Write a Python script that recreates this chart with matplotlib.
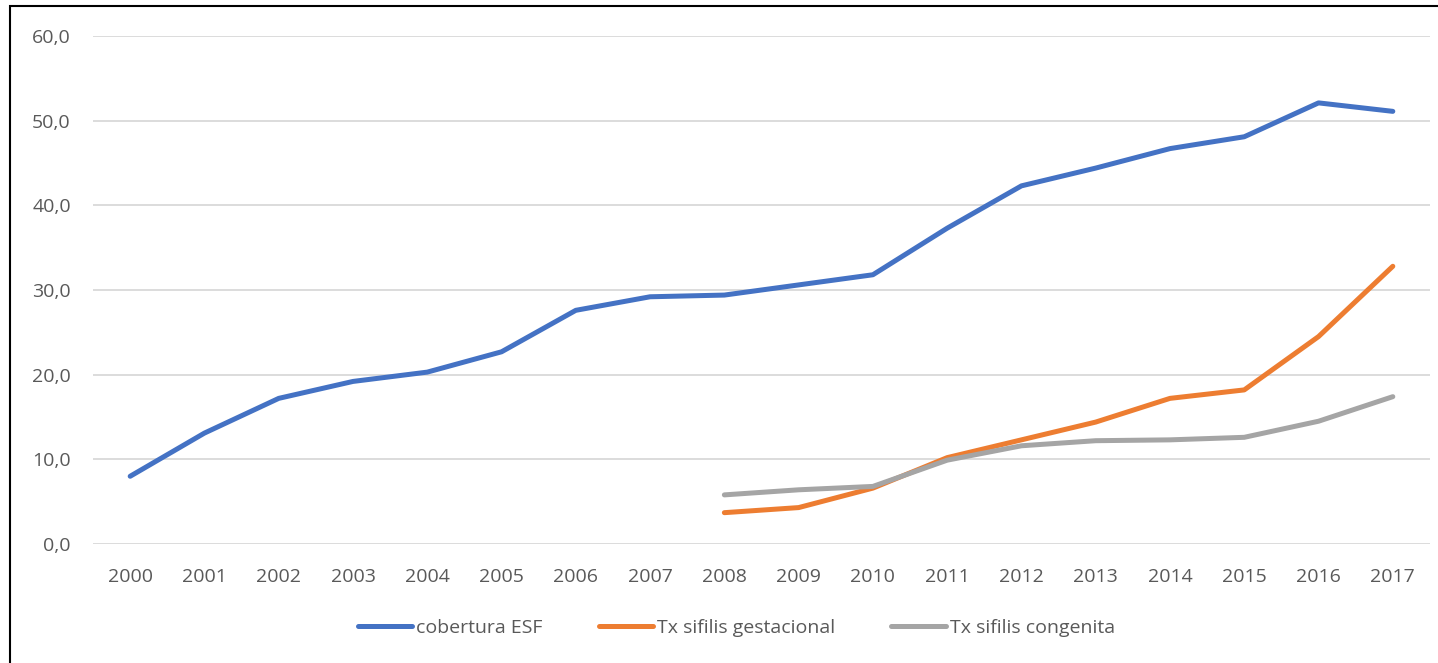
import matplotlib
matplotlib.use('Agg')
import matplotlib.pyplot as plt
from matplotlib.patches import Rectangle

plt.rcParams['font.family'] = ['Open Sans', 'DejaVu Sans']

# data
anos = ['2000', '2001', '2002', '2003', '2004', '2005', '2006', '2007', '2008',
        '2009', '2010', '2011', '2012', '2013', '2014', '2015', '2016', '2017']
cobertura_esf = [8.0, 13.1, 17.2, 19.2, 20.3, 22.7, 27.6, 29.2, 29.4,
                 30.6, 31.8, 37.3, 42.3, 44.4, 46.7, 48.1, 52.1, 51.1]
anos_sifilis = anos[8:]
tx_gestacional = [3.7, 4.3, 6.6, 10.2, 12.3, 14.4, 17.2, 18.2, 24.5, 32.8]
tx_congenita = [5.8, 6.4, 6.8, 9.9, 11.6, 12.2, 12.3, 12.6, 14.5, 17.4]
y_ticks = [0, 10, 20, 30, 40, 50, 60]

fig = plt.figure(figsize=(14.38, 6.63), dpi=100)
ax = fig.add_axes([0.0647, 0.1795, 0.9297, 0.7662])

x_all = list(range(len(anos)))
x_sif = x_all[8:]

ax.plot(x_all, cobertura_esf, color='#4472C4', lw=3.6, solid_capstyle='round',
        solid_joinstyle='round', label='cobertura ESF', zorder=3)
ax.plot(x_sif, tx_gestacional, color='#ED7D31', lw=3.6, solid_capstyle='round',
        solid_joinstyle='round', label='Tx sifilis gestacional', zorder=3)
ax.plot(x_sif, tx_congenita, color='#A5A5A5', lw=3.6, solid_capstyle='round',
        solid_joinstyle='round', label='Tx sifilis congenita', zorder=3)

ax.set_xlim(-0.5, len(anos) - 0.5)
ax.set_ylim(0, 60)
ax.set_xticks(x_all)
ax.set_xticklabels(anos)
ax.set_yticks(y_ticks)
ax.set_yticklabels([('%.1f' % v).replace('.', ',') for v in y_ticks])
ax.tick_params(length=0, labelsize=14, colors='#595959')
ax.tick_params(axis='x', pad=17)
ax.tick_params(axis='y', pad=16)
ax.grid(axis='y', color='#D9D9D9', lw=1.3)
ax.set_axisbelow(True)
for s in ax.spines.values():
    s.set_visible(False)

leg = fig.legend(loc='center', bbox_to_anchor=(0.512, 0.053), ncol=3, frameon=False,
                 fontsize=14, handlelength=2.8, handletextpad=0.2,
                 columnspacing=2.9)
for t in leg.get_texts():
    t.set_color('#595959')

# chart border
fig.patches.append(Rectangle((10 / 1438, -0.1), 1.5, 1.1 - 6 / 663, transform=fig.transFigure,
                             fill=False, edgecolor='black', lw=1.5))

fig.savefig('out.png', dpi=100)
